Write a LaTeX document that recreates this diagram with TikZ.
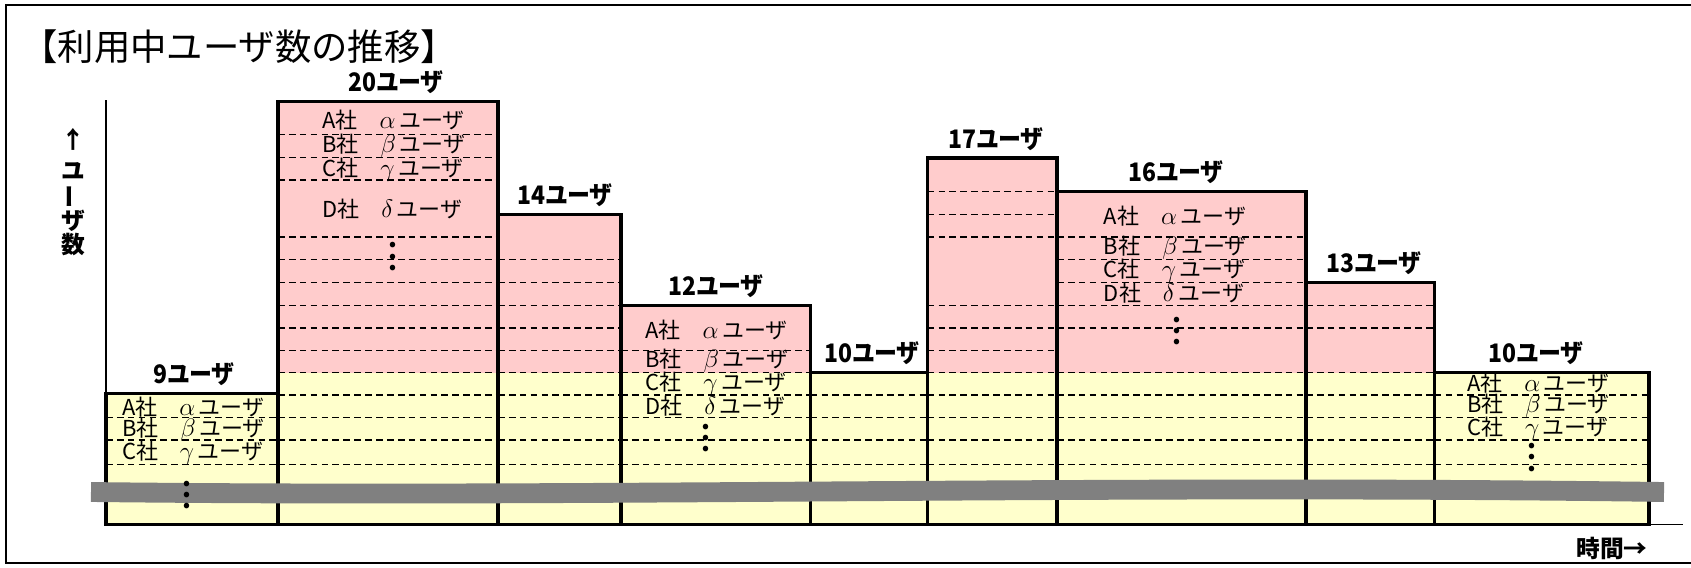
\documentclass[tikz,border=0pt]{standalone}
\usepackage{graphicx}
\usepackage{fontspec}
\usepackage{tikz}
\setmainfont{Noto Sans CJK JP}
\newfontfamily\tagfamily[RawFeature=+palt]{Noto Sans CJK JP}
\definecolor{userpink}{HTML}{FFCCCC}
\definecolor{useryellow}{HTML}{FFFFCC}
\definecolor{breakgray}{HTML}{808080}
\newcommand{\rowfont}{\fontsize{12.5}{15}\selectfont}
\newcommand{\tagfont}{\tagfamily\bfseries\fontsize{14.5}{16}\selectfont}
\newcommand{\titlefont}{\fontsize{20.7}{24}\selectfont}
\newcommand{\axisfont}{\bfseries\fontsize{13.5}{13.3}\selectfont}
\newcommand{\vdotstack}{\vbox{\baselineskip=6.5pt\lineskiplimit=-20pt\hbox{.}\hbox{.}\hbox{.}}}

\begin{document}
\begin{tikzpicture}[x=0.02cm,y=-0.02cm,
    bar/.style={draw=black,line width=1.9pt,line join=miter},
    rowline/.style={line width=0.75pt,dash pattern=on 3.8pt off 2.4pt},
    rowtext/.style={anchor=west,inner sep=0pt,font=\rowfont},
    usertag/.style={anchor=base,inner sep=0pt,font=\tagfont},
    dotstack/.style={inner sep=0pt,font=\tagfont}]
        \useasboundingbox (0,0) rectangle (1691,568);
        \def\barbase{524.5} % common bottom of all bars
        \def\splitlevel{372.7} % pink above, yellow below

        % Define outer frame (open on the right)
        \draw[line width=1.1pt] (1691,5) -- (6,5) -- (6,563) -- (1691,563);

        % Define bar fills
        \foreach \xl/\xr/\ytop in {106/278/393.3, 278/498/101.5, 498/621/214.3,
            621/810.6/305.3, 810.6/927.7/372.7, 927.7/1057/158,
            1057/1306/191.7, 1306/1434.7/282.7, 1434.7/1649/372.7} {
        \fill[useryellow] (\xl,\ytop) rectangle (\xr,\barbase);
        }
        \foreach \xl/\xr/\ytop in {278/498/101.5, 498/621/214.3, 621/810.6/305.3,
            927.7/1057/158, 1057/1306/191.7, 1306/1434.7/282.7} {
        \fill[userpink] (\xl,\ytop) rectangle (\xr,\splitlevel);
        }

        % Define dashed rows in each bar
        \foreach \y in {417.3,440,464.5}
            \draw[rowline] (106,\y) -- (278,\y);
        \foreach \y in {134.5,157.5,180,237,259.7,282.7,305.3,328,350.7,372.7,395,417.3,440,464.5}
            \draw[rowline] (278,\y) -- (498,\y);
        \foreach \y in {259.7,282.7,305.3,328,350.7,372.7,395,417.3,440,464.5}
            \draw[rowline] (498,\y) -- (621,\y);
        \foreach \y in {350.7,372.7,395,417.3,440,464.5}
            \draw[rowline] (621,\y) -- (810.6,\y);
        \foreach \y in {395,417.3,440,464.5}
            \draw[rowline] (810.6,\y) -- (927.7,\y);
        \foreach \y in {191.7,214.3,237,305.3,328,350.7,372.7,395,417.3,440,464.5}
            \draw[rowline] (927.7,\y) -- (1057,\y);
        \foreach \y in {237,259.7,282.7,305.3,328,372.7,395,417.3,440,464.5}
            \draw[rowline] (1057,\y) -- (1306,\y);
        \foreach \y in {305.3,328,372.7,395,417.3,440,464.5}
            \draw[rowline] (1306,\y) -- (1434.7,\y);
        \foreach \y in {395,417.3,440,464.5}
            \draw[rowline] (1434.7,\y) -- (1649,\y);

        % Define axes
        \draw[line width=1.1pt] (106,100) -- (106,\barbase) -- (1683,\barbase);

        % Define bar outlines and user counts
        \foreach \n/\xl/\xr/\ytop/\lx/\cnt in
        {
            1/106/278/393.3/194/9,
            2/278/498/101.5/396/20,
            3/498/621/214.3/565/14,
            4/621/810.6/305.3/716/12,
            5/810.6/927.7/372.7/872/10,
            6/927.7/1057/158/996/17,
            7/1057/1306/191.7/1176/16,
            8/1306/1434.7/282.7/1374/13,
            9/1434.7/1649/372.7/1536/10} {
        \draw[bar] (\xl,\barbase) rectangle (\xr,\ytop);
        \node[usertag] (tag\n) at (\lx,\ytop-10) {\scalebox{0.9}[1]{\cnt ユーザ}};
        }

        % Define break band
        \draw[breakgray,line width=11.3pt] (91,492) .. controls (600,498) and (1100,484) .. (1664,492);

        % Define company rows
        \foreach \n/\x/\y/\co/\gr in
        {
            1a/121.7/407/A/\alpha, 1b/121.7/430/B/\beta, 1c/121.7/453/C/\gamma,
            2a/322/120/A/\alpha, 2b/322/146/B/\beta, 2c/322/170/C/\gamma, 2d/322/209/D/\delta,
            4a/645/330/A/\alpha, 4b/645/361/B/\beta, 4c/645/384/C/\gamma, 4d/645/406/D/\delta,
            7a/1103.6/216/A/\alpha, 7b/1103.6/248/B/\beta, 7c/1103.6/271/C/\gamma, 7d/1103.6/293/D/\delta,
            9a/1466.7/383.5/A/\alpha, 9b/1466.7/406/B/\beta, 9c/1466.7/428.5/C/\gamma
        } {
        \node[rowtext] (row\n) at (\x,\y) {\co 社\quad{\fontsize{14}{15}\selectfont$\gr$}\,ユーザ};
        }

        % Define ellipsis dots
        \foreach \n/\x/\y in {1/186.7/495, 2/393/256.7, 4/705.7/438, 7/1177/331, 9/1532.3/457.3} {
        \node[dotstack] (dots\n) at (\x,\y) {\vdotstack};
        }

        % Define title and axis labels
        \node[anchor=west,inner sep=0pt,font=\titlefont] (title) at (21,46.5) {【利用中ユーザ数の推移】};
        \node[align=center,inner sep=0pt,font=\axisfont] (ylabel) at (73,192)
            {↑\\[4pt]ユ\\\rotatebox[origin=c]{90}{ー}\\ザ\\数};
        \node[inner sep=0pt,font=\axisfont] (xlabel) at (1612,548) {時間→};
    \end{tikzpicture}
\end{document}
